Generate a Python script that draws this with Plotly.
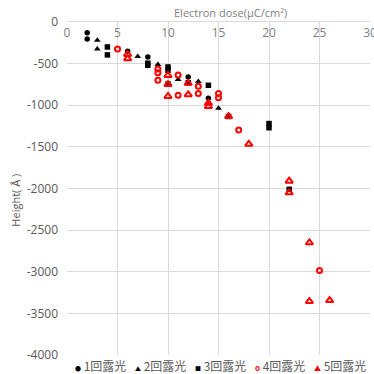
import plotly.graph_objects as go

# ---- data ----
series_names = ["1回露光", "2回露光", "3回露光", "4回露光", "5回露光"]

s1_x = [2, 2, 6, 8, 12, 14]
s1_y = [-130, -205, -350, -420, -660, -915]

s2_x = [3, 3, 7, 9, 11, 13, 15]
s2_y = [-220, -325, -415, -510, -690, -715, -1035]

s3_x = [4, 4, 8, 8, 10, 10, 10, 12, 14, 16, 20, 20, 22]
s3_y = [-300, -395, -495, -520, -540, -580, -745, -730, -760, -1135, -1220, -1270, -2010]

s4_x = [5, 9, 9, 9, 11, 11, 13, 13, 15, 15, 17, 25]
s4_y = [-325, -565, -610, -700, -638, -880, -772, -860, -860, -910, -1298, -2985]

s5_x = [6, 6, 10, 10, 10, 12, 12, 14, 14, 16, 18, 22, 22, 24, 24, 26]
s5_y = [-388, -440, -640, -748, -892, -735, -872, -975, -1012, -1135, -1466, -1910, -2050, -2650, -3355, -3345]

x_ticks = [0, 5, 10, 15, 20, 25, 30]
y_ticks = [0, -500, -1000, -1500, -2000, -2500, -3000, -3500, -4000]

GREY = "#595959"
GRID = "#d9d9d9"
FONT = "Open Sans"
CJK = "Noto Sans CJK JP"

fig = go.Figure()
fig.add_trace(go.Scatter(x=s1_x, y=s1_y, mode="markers", name=series_names[0],
                         marker=dict(symbol="circle", size=5.5, color="black")))
fig.add_trace(go.Scatter(x=s2_x, y=s2_y, mode="markers", name=series_names[1],
                         marker=dict(symbol="triangle-up", size=6, color="black")))
fig.add_trace(go.Scatter(x=s3_x, y=s3_y, mode="markers", name=series_names[2],
                         marker=dict(symbol="square", size=5.5, color="black")))
fig.add_trace(go.Scatter(x=s4_x, y=s4_y, mode="markers", name=series_names[3],
                         marker=dict(symbol="circle-open", size=5, color="red",
                                     line=dict(width=2, color="red"))))
fig.add_trace(go.Scatter(x=s5_x, y=s5_y, mode="markers", name=series_names[4],
                         marker=dict(symbol="triangle-up-open", size=6.5, color="red",
                                     line=dict(width=2, color="red"))))

fig.update_layout(
    width=374, height=374,
    margin=dict(l=67, r=4, t=22, b=19, autoexpand=False),
    paper_bgcolor="white", plot_bgcolor="white",
    showlegend=False,
    font=dict(family=FONT, size=12, color=GREY),
    xaxis=dict(side="top", range=[0, 30], tickvals=x_ticks,
               ticktext=[str(v) for v in x_ticks],
               ticklabelposition="inside", ticklabelstandoff=6,
               ticklabeloverflow="allow", automargin=False,
               showgrid=True, gridcolor=GRID, gridwidth=1,
               showline=True, linecolor=GRID, zeroline=False,
               tickfont=dict(family=FONT, size=12, color="#7f7f7f"),
               mirror=False, fixedrange=True),
    yaxis=dict(range=[-4000, 0], tickvals=y_ticks,
               ticktext=[str(v) for v in y_ticks],
               ticklabeloverflow="allow", automargin=False,
               showgrid=True, gridcolor=GRID, gridwidth=1,
               showline=False, zeroline=False, ticklabelstandoff=8,
               tickfont=dict(family=FONT, size=12, color=GREY),
               fixedrange=True),
)

# axis titles
fig.add_annotation(text="Electron dose(μC/cm²)", xref="paper", yref="paper",
                   x=0.541, y=1.0, yshift=10, showarrow=False,
                   xanchor="center", yanchor="middle",
                   font=dict(family=FONT, size=11, color="#7f7f7f"))
fig.add_annotation(text="Height( Å )", xref="paper", yref="paper",
                   x=-0.17, y=0.465, textangle=-90, showarrow=False,
                   xanchor="center", yanchor="middle",
                   font=dict(family=FONT, size=11, color=GREY))

# legend (drawn as text)
glyphs = [("●", "black", 6), ("▲", "black", 6), ("■", "black", 6),
          ("o", "red", 8), ("▲", "red", 7)]
leg_x = [73, 133, 193, 253, 312]
for (g, c, fs), name, px in zip(glyphs, series_names, leg_x):
    weight = "bold" if g == "o" else "normal"
    fig.add_annotation(
        text=f"<span style='color:{c};font-size:{fs}px;font-weight:{weight}'>{g}</span> {name}",
        xref="paper", yref="paper", x=(px - 67) / 303, y=0, yshift=-10,
        showarrow=False, xanchor="left", yanchor="middle",
        font=dict(family=CJK, size=12, color=GREY))

fig.write_html("out.html")
